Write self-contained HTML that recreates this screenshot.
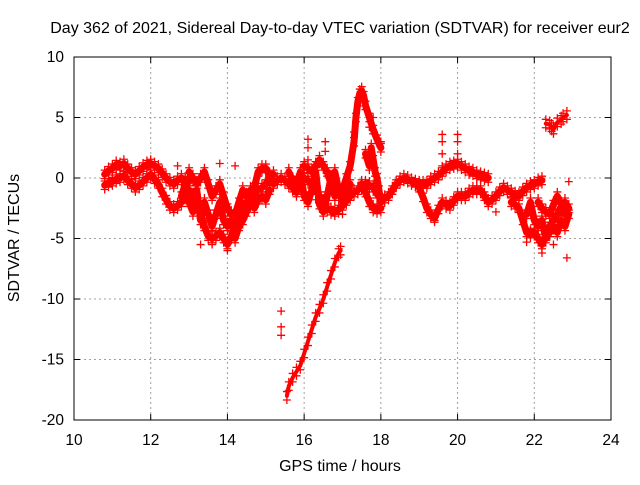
<!DOCTYPE html>
<html><head><meta charset="utf-8"><style>
body{margin:0;background:#fff}
svg{font-family:"Liberation Sans",sans-serif;font-size:15.5px}
</style></head><body>
<svg id="c" width="640" height="480">
<text x="340" y="33" text-anchor="middle" style="font-size:16px">Day 362 of 2021, Sidereal Day-to-day VTEC variation (SDTVAR) for receiver eur2</text>
<text x="340" y="471" text-anchor="middle" style="font-size:16px">GPS time / hours</text>
<text transform="translate(19,238) rotate(-90)" text-anchor="middle" style="font-size:16px">SDTVAR / TECUs</text>
<g id="grid"></g><g id="marks"></g><g id="axes"></g>
</svg>
<script>
const xTicks=[10,12,14,16,18,20,22,24];
const yTicks=[10,5,0,-5,-10,-15,-20];
const trackA=[[10.8,0.3],[10.9,0.6],[11.0,0.8],[11.1,1.1],[11.2,1.0],[11.3,1.2],[11.4,0.8],[11.5,0.5],[11.6,0.3],[11.7,0.6],[11.8,0.9],[11.9,1.1],[12.0,1.2],[12.1,1.0],[12.2,0.8],[12.3,0.4],[12.4,0.0],[12.5,-0.3],[12.6,-0.5],[12.7,-0.2],[12.8,0.0],[12.9,-0.2],[13.0,-0.3]];
const trackB=[[10.8,-0.6],[10.9,-0.4],[11.0,-0.3],[11.1,-0.1],[11.2,0.0],[11.3,0.2],[11.4,-0.2],[11.5,-0.5],[11.6,-0.8],[11.7,-0.6],[11.8,-0.3],[11.9,0.0],[12.0,0.3],[12.1,-0.1],[12.2,-0.5],[12.3,-1.2],[12.4,-1.8],[12.5,-2.3],[12.6,-2.5],[12.7,-2.3],[12.8,-2.0],[12.9,-1.5],[13.0,-1.0]];
const trackC=[[13.0,-1.0],[13.1,-1.5],[13.2,-2.0],[13.3,-3.0],[13.4,-4.0],[13.5,-4.8],[13.6,-5.0],[13.7,-4.8],[13.8,-4.5],[13.9,-5.0],[14.0,-5.5],[14.1,-4.8],[14.2,-4.0],[14.3,-3.2],[14.4,-2.5],[14.5,-2.0],[14.6,-1.5],[14.7,-1.2],[14.8,-1.0],[14.9,-0.8],[15.0,-0.5],[15.1,0.0],[15.2,0.3]];
const trackD=[[13.0,0.5],[13.1,0.0],[13.2,-0.5],[13.3,0.0],[13.4,0.5],[13.5,-0.5],[13.6,-1.5],[13.7,-1.0],[13.8,-0.5],[13.9,-1.5],[14.0,-2.5],[14.1,-3.0],[14.2,-3.0],[14.3,-2.0],[14.4,-1.0],[14.5,-1.5],[14.6,-2.0],[14.7,-0.8],[14.8,0.5],[14.9,0.8],[15.0,0.8],[15.1,0.2],[15.2,-0.5],[15.3,-0.2],[15.4,0.0],[15.5,-0.2],[15.6,-0.5],[15.7,-0.8],[15.8,-1.2]];
const trackE=[[15.8,-0.3],[15.9,-0.1],[16.0,0.0],[16.1,-0.2],[16.2,-0.5],[16.3,-1.0],[16.4,-1.5],[16.5,-2.0],[16.6,-2.5],[16.7,-2.7],[16.8,-2.8],[16.9,-2.6],[17.0,-2.3],[17.1,-1.9],[17.2,-1.5],[17.3,-1.2],[17.4,-1.0],[17.5,-0.7],[17.6,-0.5],[17.7,-0.6],[17.8,-0.8],[17.9,-1.3],[18.0,-1.8],[18.1,-1.7],[18.2,-1.5],[18.3,-1.0],[18.4,-0.5],[18.5,-0.2],[18.6,0.0],[18.7,-0.1],[18.8,-0.3],[18.9,-0.4],[19.0,-0.5],[19.1,-0.5],[19.2,-0.5],[19.3,-0.2],[19.4,0.0],[19.5,0.2],[19.6,0.5],[19.7,0.8],[19.8,1.0],[19.9,1.1],[20.0,1.2],[20.1,1.0],[20.2,0.8],[20.3,0.6],[20.4,0.5],[20.5,0.3],[20.6,0.2],[20.7,0.1],[20.8,0.0]];
const trackF=[[16.0,1.0],[16.1,0.8],[16.2,0.5],[16.3,1.0],[16.4,1.5],[16.5,1.0],[16.6,0.5],[16.7,-0.5],[16.8,-1.5],[16.9,-1.3],[17.0,-1.0],[17.1,0.0],[17.2,1.0],[17.3,3.0],[17.35,5.0],[17.4,6.3],[17.45,7.0],[17.5,7.2],[17.55,6.8],[17.6,6.0],[17.7,5.0],[17.8,4.0],[17.9,3.2],[18.0,2.5]];
const trackG=[[17.5,-0.5],[17.6,-1.2],[17.7,-2.0],[17.8,-2.5],[17.9,-2.6],[18.0,-2.5]];
const trackH=[[19.0,-0.8],[19.1,-1.6],[19.2,-2.5],[19.3,-3.0],[19.4,-3.3],[19.5,-2.6],[19.6,-2.0],[19.7,-2.2],[19.8,-2.3],[19.9,-1.9],[20.0,-1.5],[20.1,-1.5],[20.2,-1.5],[20.3,-1.2],[20.4,-1.0],[20.5,-1.0],[20.6,-1.0],[20.7,-1.5],[20.8,-2.0],[20.9,-1.8],[21.0,-1.5],[21.1,-1.1],[21.2,-0.8],[21.3,-1.0],[21.4,-1.2],[21.5,-1.4],[21.6,-1.5],[21.7,-1.1],[21.8,-0.8],[21.9,-0.6],[22.0,-0.5],[22.1,-0.3],[22.2,-0.2]];
const trackI=[[21.4,-2.0],[21.5,-2.2],[21.6,-2.5],[21.7,-3.5],[21.8,-4.5],[21.9,-4.6],[22.0,-4.5],[22.1,-5.0],[22.2,-5.5],[22.3,-4.8],[22.4,-4.0],[22.5,-3.5],[22.6,-3.0],[22.7,-2.5],[22.8,-2.0],[22.9,-2.5]];
const trackJ=[[22.1,-2.0],[22.2,-2.5],[22.3,-2.8],[22.4,-3.0],[22.5,-2.2],[22.6,-1.5],[22.7,-2.2],[22.8,-3.0]];
const trackK=[[15.55,-18.0],[15.6,-17.2],[15.7,-16.5],[15.8,-16.0],[15.9,-15.5],[16.0,-14.5],[16.1,-13.5],[16.2,-12.5],[16.3,-11.5],[16.4,-10.8],[16.5,-10.0],[16.6,-9.0],[16.7,-8.0],[16.8,-7.0],[16.9,-6.2],[16.95,-6.0]];
const trackL=[[22.3,4.5],[22.4,4.4],[22.45,4.2],[22.5,4.0],[22.6,4.6],[22.7,4.8],[22.75,5.0],[22.85,5.2]];
const trackM=[[12.8,-1.5],[12.9,-0.5],[13.0,-2.0],[13.1,-2.8],[13.2,-1.0],[13.3,-3.5],[13.4,-2.0],[13.5,-3.0],[13.6,-4.0],[13.7,-3.0],[13.8,-2.0],[13.9,-3.5],[14.0,-4.0],[14.1,-3.5],[14.2,-5.0],[14.3,-4.0],[14.4,-3.5],[14.5,-2.8],[14.6,-1.0],[14.7,-2.5],[14.8,-1.8],[14.9,-1.5],[15.0,-1.8],[15.1,-1.0]];
const trackN=[[15.6,0.5],[15.7,-0.2],[15.8,-1.0],[15.9,0.5],[16.0,-1.5],[16.1,-2.0],[16.2,-1.0],[16.3,0.5],[16.4,-2.2],[16.5,-2.8],[16.6,-1.5],[16.7,0.0],[16.8,0.5],[16.9,-1.0],[17.0,-2.0],[17.1,-1.5],[17.2,-0.5]];
const trackO=[[17.6,2.0],[17.7,1.0],[17.75,2.5],[17.8,1.5],[17.85,0.5],[17.9,0.0],[17.95,-1.0],[18.0,-2.0]];
const trackP=[[21.8,-3.0],[21.9,-2.0],[22.0,-3.5],[22.1,-4.0],[22.2,-3.5],[22.3,-5.0],[22.4,-4.5],[22.5,-4.0],[22.6,-4.5],[22.7,-3.5],[22.8,-4.0],[22.9,-3.0]];
const isolated=[[15.4,-11.0],[15.4,-12.3],[15.4,-13.0],[22.85,-6.6],[19.6,1.0],[19.6,2.0],[19.6,3.0],[19.6,3.6],[20.0,2.0],[20.0,3.0],[20.0,3.6],[16.1,1.5],[16.1,2.5],[16.1,3.2],[16.55,3.0],[16.55,2.2],[17.3,3.8],[17.8,5.0],[17.7,4.2],[13.5,-3.5],[13.8,1.2],[14.2,1.0],[14.6,-2.5],[16.3,-1.8],[18.0,3.0],[21.0,-2.8],[22.9,-0.3],[12.7,1.0],[13.3,-5.5],[13.6,-5.5],[14.0,-6.0],[16.8,-3.0],[17.0,-3.0],[19.4,-3.5],[21.8,-5.3],[22.2,-6.2],[22.5,-5.5]];
const tracks=[trackA,trackB,trackC,trackD,trackE,trackF,trackG,trackH,trackI,trackJ,trackK,trackL,trackM,trackN,trackO,trackP];
const X0=74,X1=611,Y0=57,Y1=420;
const sx=t=>X0+(t-10)/(24-10)*(X1-X0);
const sy=v=>Y1-(v+20)/30*(Y1-Y0);
const NS="http://www.w3.org/2000/svg";
function mk(tag,attrs,parent){const e=document.createElementNS(NS,tag);for(const k in attrs)e.setAttribute(k,attrs[k]);parent.appendChild(e);return e;}
const grid=document.getElementById('grid'),marks=document.getElementById('marks'),axes=document.getElementById('axes');
xTicks.forEach(t=>{const x=sx(t);
 if(t>10&&t<24){const l=mk('line',{x1:x,x2:x,y1:Y0,y2:Y1,stroke:'#a0a0a0','stroke-dasharray':'2,3'},grid);
 
 }
 mk('line',{x1:x,x2:x,y1:Y1,y2:Y1-6,stroke:'#000'},axes);
 mk('line',{x1:x,x2:x,y1:Y0,y2:Y0+6,stroke:'#000'},axes);
 const tx=mk('text',{x:x,y:Y1+25,'text-anchor':'middle'},axes);tx.textContent=t;
 
 });
yTicks.forEach(v=>{const y=sy(v);
 if(v>-20&&v<10){const l=mk('line',{x1:X0,x2:X1,y1:y,y2:y,stroke:'#a0a0a0','stroke-dasharray':'2,3'},grid);
 
 }
 mk('line',{x1:X0,x2:X0+6,y1:y,y2:y,stroke:'#000'},axes);
 mk('line',{x1:X1,x2:X1-6,y1:y,y2:y,stroke:'#000'},axes);
 const tx=mk('text',{x:X0-10,y:y+5,'text-anchor':'end'},axes);tx.textContent=v;
 
 });
const fr=mk('rect',{x:X0,y:Y0,width:X1-X0,height:Y1-Y0,fill:'none',stroke:'#000'},axes);


function plus(t,v,col){const x=sx(t),y=sy(v);
 const p=mk('path',{d:`M${x-4} ${y}H${x+4}M${x} ${y-4}V${y+4}`,stroke:col,'stroke-width':1.3},marks);
 
 }
tracks.forEach(tr=>{
 const pl=mk('polyline',{points:tr.map(p=>sx(p[0])+','+sy(p[1])).join(' '),fill:'none',stroke:'#ff0000','stroke-width':tr===trackK||tr===trackL?4:7,'stroke-linejoin':'round','stroke-linecap':'round'},marks);
 
 
 tr.forEach(p=>{plus(p[0],p[1]+0.35,'#ff0000');plus(p[0],p[1]-0.35,'#ff0000');});
});
isolated.forEach(p=>plus(p[0],p[1],'#ff0000'));
</script>
</body></html>
